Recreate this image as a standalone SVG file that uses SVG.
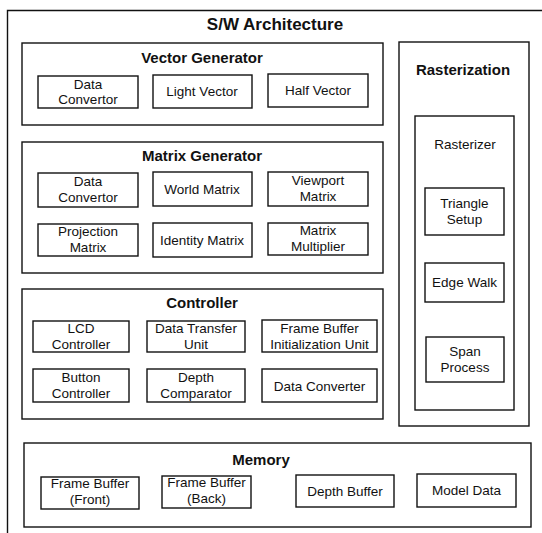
<svg xmlns="http://www.w3.org/2000/svg" width="542" height="533" viewBox="0 0 542 533">
<style>
rect{fill:#fff;stroke:#111;stroke-width:1.4}
text{font-family:"Liberation Sans",Arial,sans-serif;fill:#111;text-anchor:middle}
.t{font-size:13.5px}
.h{font-size:15px;font-weight:bold}
.m{font-size:17px;font-weight:bold}
</style>
<rect x="0" y="0" width="542" height="533" style="stroke:none"/>
<g id="outer"><path d="M7.5 533 V10.5 H542" fill="none" stroke="#111" stroke-width="1.4"/>
<text class="m" x="275" y="30">S/W Architecture</text></g>

<g id="vector-generator">
<rect x="22" y="43" width="361" height="82"/>
<text class="h" x="202" y="63">Vector Generator</text>
<g id="vg-data-convertor"><rect x="38" y="76" width="100" height="32"/><text class="t" x="88" y="89">Data</text><text class="t" x="88" y="104">Convertor</text></g>
<g id="vg-light-vector"><rect x="153" y="75" width="99" height="33"/><text class="t" x="202" y="96">Light Vector</text></g>
<g id="vg-half-vector"><rect x="268" y="74" width="100" height="33"/><text class="t" x="318" y="95">Half Vector</text></g>
</g>

<g id="matrix-generator">
<rect x="22" y="142" width="361" height="131"/>
<text class="h" x="202" y="161">Matrix Generator</text>
<g id="mg-data-convertor"><rect x="38" y="173" width="100" height="34"/><text class="t" x="88" y="186">Data</text><text class="t" x="88" y="202">Convertor</text></g>
<g id="mg-world-matrix"><rect x="153" y="172" width="99" height="34"/><text class="t" x="202" y="194">World Matrix</text></g>
<g id="mg-viewport-matrix"><rect x="268" y="172" width="100" height="34"/><text class="t" x="318" y="185">Viewport</text><text class="t" x="318" y="201">Matrix</text></g>
<g id="mg-projection-matrix"><rect x="38" y="224" width="100" height="32"/><text class="t" x="88" y="236">Projection</text><text class="t" x="88" y="252">Matrix</text></g>
<g id="mg-identity-matrix"><rect x="153" y="223" width="99" height="34"/><text class="t" x="202" y="245">Identity Matrix</text></g>
<g id="mg-matrix-multiplier"><rect x="268" y="223" width="100" height="32"/><text class="t" x="318" y="235">Matrix</text><text class="t" x="318" y="251">Multiplier</text></g>
</g>

<g id="controller">
<rect x="22" y="289" width="361" height="130"/>
<text class="h" x="202" y="308">Controller</text>
<g id="ctl-lcd"><rect x="33" y="321" width="96" height="31"/><text class="t" x="81" y="333">LCD</text><text class="t" x="81" y="349">Controller</text></g>
<g id="ctl-data-transfer"><rect x="147" y="321" width="98" height="31"/><text class="t" x="196" y="333">Data Transfer</text><text class="t" x="196" y="349">Unit</text></g>
<g id="ctl-fb-init"><rect x="262" y="320" width="115" height="32"/><text class="t" x="319.500" y="333">Frame Buffer</text><text class="t" x="319.500" y="349">Initialization Unit</text></g>
<g id="ctl-button"><rect x="33" y="369" width="96" height="33"/><text class="t" x="81" y="382">Button</text><text class="t" x="81" y="398">Controller</text></g>
<g id="ctl-depth-comparator"><rect x="147" y="369" width="98" height="33"/><text class="t" x="196" y="382">Depth</text><text class="t" x="196" y="398">Comparator</text></g>
<g id="ctl-data-converter"><rect x="262" y="369" width="115" height="33"/><text class="t" x="319.500" y="391">Data Converter</text></g>
</g>

<g id="rasterization">
<rect x="399" y="42" width="130" height="384"/>
<text class="h" x="463" y="75">Rasterization</text>
<g id="rasterizer">
<rect x="415" y="116" width="99" height="294"/>
<text class="t" x="465" y="149">Rasterizer</text>
<g id="triangle-setup"><rect x="425" y="188" width="79" height="47"/><text class="t" x="464.500" y="208">Triangle</text><text class="t" x="464.500" y="224">Setup</text></g>
<g id="edge-walk"><rect x="425" y="263" width="79" height="39"/><text class="t" x="464.500" y="287">Edge Walk</text></g>
<g id="span-process"><rect x="426" y="337" width="78" height="45"/><text class="t" x="465" y="356">Span</text><text class="t" x="465" y="372">Process</text></g>
</g>
</g>

<g id="memory">
<rect x="24" y="443" width="507" height="84"/>
<text class="h" x="261" y="465">Memory</text>
<g id="mem-fb-front"><rect x="41" y="477" width="98" height="32"/><text class="t" x="90" y="488">Frame Buffer</text><text class="t" x="90" y="504">(Front)</text></g>
<g id="mem-fb-back"><rect x="162" y="476" width="89" height="32"/><text class="t" x="206.500" y="487">Frame Buffer</text><text class="t" x="206.500" y="503">(Back)</text></g>
<g id="mem-depth-buffer"><rect x="296" y="475" width="98" height="32"/><text class="t" x="345" y="496">Depth Buffer</text></g>
<g id="mem-model-data"><rect x="417" y="474" width="99" height="33"/><text class="t" x="466.500" y="495">Model Data</text></g>
</g>
<g id="connectors"/>
</svg>
